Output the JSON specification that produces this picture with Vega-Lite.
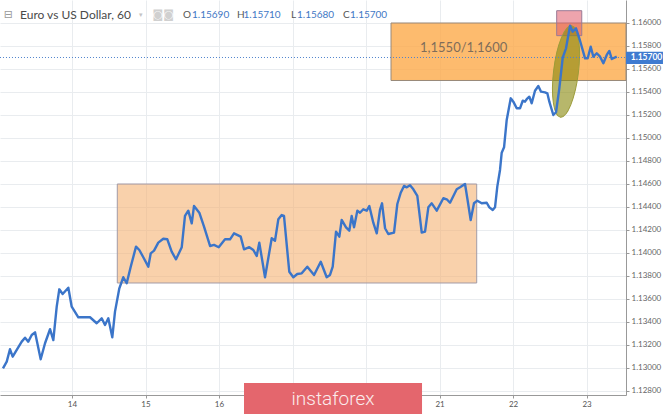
{
  "$schema": "https://vega.github.io/schema/vega-lite/v6.json",
  "width": 626,
  "height": 395,
  "autosize": "none",
  "padding": {"left": 0, "top": 0, "right": 39, "bottom": 19},
  "background": "white",
  "config": {
    "view": {"stroke": null},
    "axis": {"gridColor": "#e9ecef", "gridWidth": 1, "domainColor": "#999999", "tickColor": "#999999", "tickSize": 3, "labelFont": "Lato", "labelFontSize": 8, "labelColor": "#555555", "labelPadding": 2, "labelOverlap": false, "labelFlush": false}
  },
  "datasets": {
    "series": [
      {"d": -0.939, "p": 1.12997}, {"d": -0.888, "p": 1.13055}, {"d": -0.844, "p": 1.13163}, {"d": -0.807, "p": 1.13098},
      {"d": -0.752, "p": 1.13157}, {"d": -0.684, "p": 1.13229}, {"d": -0.639, "p": 1.13263}, {"d": -0.595, "p": 1.13229},
      {"d": -0.548, "p": 1.13287}, {"d": -0.503, "p": 1.1331}, {"d": -0.426, "p": 1.13076}, {"d": -0.367, "p": 1.13215},
      {"d": -0.299, "p": 1.13337}, {"d": -0.254, "p": 1.13243}, {"d": -0.208, "p": 1.13533}, {"d": -0.173, "p": 1.13684},
      {"d": -0.127, "p": 1.13643}, {"d": -0.05, "p": 1.13698}, {"d": -0.004, "p": 1.13533}, {"d": 0.086, "p": 1.13441},
      {"d": 0.245, "p": 1.13441}, {"d": 0.336, "p": 1.13389}, {"d": 0.404, "p": 1.13432}, {"d": 0.449, "p": 1.13374},
      {"d": 0.494, "p": 1.13432}, {"d": 0.548, "p": 1.13267}, {"d": 0.585, "p": 1.1349}, {"d": 0.644, "p": 1.13693},
      {"d": 0.698, "p": 1.13789}, {"d": 0.744, "p": 1.13737}, {"d": 0.799, "p": 1.13881}, {"d": 0.871, "p": 1.14055},
      {"d": 0.916, "p": 1.14026}, {"d": 0.97, "p": 1.13963}, {"d": 1.038, "p": 1.13881}, {"d": 1.071, "p": 1.13997},
      {"d": 1.116, "p": 1.1402}, {"d": 1.174, "p": 1.1409}, {"d": 1.242, "p": 1.14124}, {"d": 1.297, "p": 1.14119},
      {"d": 1.356, "p": 1.14011}, {"d": 1.415, "p": 1.13945}, {"d": 1.493, "p": 1.1405}, {"d": 1.537, "p": 1.14322},
      {"d": 1.582, "p": 1.14368}, {"d": 1.629, "p": 1.14258}, {"d": 1.66, "p": 1.14409}, {"d": 1.732, "p": 1.1435},
      {"d": 1.796, "p": 1.14229}, {"d": 1.878, "p": 1.14061}, {"d": 1.932, "p": 1.1407}, {"d": 1.996, "p": 1.1405},
      {"d": 2.082, "p": 1.14119}, {"d": 2.15, "p": 1.14119}, {"d": 2.204, "p": 1.14171}, {"d": 2.295, "p": 1.14142},
      {"d": 2.34, "p": 1.14032}, {"d": 2.412, "p": 1.1405}, {"d": 2.467, "p": 1.14026}, {"d": 2.513, "p": 1.13974},
      {"d": 2.548, "p": 1.1409}, {"d": 2.626, "p": 1.13789}, {"d": 2.717, "p": 1.14128}, {"d": 2.762, "p": 1.14107},
      {"d": 2.807, "p": 1.14293}, {"d": 2.853, "p": 1.1433}, {"d": 2.884, "p": 1.14322}, {"d": 2.956, "p": 1.13837},
      {"d": 3.011, "p": 1.13789}, {"d": 3.065, "p": 1.13817}, {"d": 3.125, "p": 1.13823}, {"d": 3.201, "p": 1.13881},
      {"d": 3.293, "p": 1.13809}, {"d": 3.384, "p": 1.13924}, {"d": 3.465, "p": 1.13789}, {"d": 3.51, "p": 1.13809},
      {"d": 3.547, "p": 1.13881}, {"d": 3.592, "p": 1.14185}, {"d": 3.637, "p": 1.14142}, {"d": 3.669, "p": 1.14287},
      {"d": 3.728, "p": 1.14223}, {"d": 3.773, "p": 1.14194}, {"d": 3.805, "p": 1.14322}, {"d": 3.837, "p": 1.14223},
      {"d": 3.882, "p": 1.14368}, {"d": 3.918, "p": 1.1435}, {"d": 3.963, "p": 1.1438}, {"d": 4.01, "p": 1.14368},
      {"d": 4.045, "p": 1.14409}, {"d": 4.099, "p": 1.14263}, {"d": 4.146, "p": 1.14171}, {"d": 4.19, "p": 1.14374},
      {"d": 4.218, "p": 1.14432}, {"d": 4.259, "p": 1.14215}, {"d": 4.303, "p": 1.14165}, {"d": 4.381, "p": 1.14177},
      {"d": 4.426, "p": 1.14426}, {"d": 4.472, "p": 1.14524}, {"d": 4.517, "p": 1.14583}, {"d": 4.554, "p": 1.14571},
      {"d": 4.599, "p": 1.14589}, {"d": 4.644, "p": 1.14554}, {"d": 4.698, "p": 1.14496}, {"d": 4.758, "p": 1.14177},
      {"d": 4.803, "p": 1.14185}, {"d": 4.848, "p": 1.14397}, {"d": 4.894, "p": 1.14432}, {"d": 4.962, "p": 1.14368},
      {"d": 5.052, "p": 1.14476}, {"d": 5.098, "p": 1.14467}, {"d": 5.143, "p": 1.14437}, {"d": 5.234, "p": 1.14554},
      {"d": 5.279, "p": 1.14571}, {"d": 5.347, "p": 1.146}, {"d": 5.378, "p": 1.14476}, {"d": 5.424, "p": 1.14287},
      {"d": 5.469, "p": 1.14432}, {"d": 5.514, "p": 1.14455}, {"d": 5.574, "p": 1.14432}, {"d": 5.642, "p": 1.14437},
      {"d": 5.678, "p": 1.14397}, {"d": 5.724, "p": 1.14374}, {"d": 5.755, "p": 1.14397}, {"d": 5.786, "p": 1.14577},
      {"d": 5.823, "p": 1.14722}, {"d": 5.846, "p": 1.14872}, {"d": 5.878, "p": 1.14919}, {"d": 5.914, "p": 1.15157},
      {"d": 5.969, "p": 1.15345}, {"d": 6.004, "p": 1.15316}, {"d": 6.05, "p": 1.15258}, {"d": 6.095, "p": 1.15258},
      {"d": 6.132, "p": 1.15324}, {"d": 6.163, "p": 1.15316}, {"d": 6.186, "p": 1.15337}, {"d": 6.222, "p": 1.15359},
      {"d": 6.254, "p": 1.15302}, {"d": 6.299, "p": 1.15411}, {"d": 6.344, "p": 1.15452}, {"d": 6.381, "p": 1.15403},
      {"d": 6.435, "p": 1.15397}, {"d": 6.467, "p": 1.15389}, {"d": 6.494, "p": 1.15316}, {"d": 6.548, "p": 1.152},
      {"d": 6.585, "p": 1.15224}, {"d": 6.63, "p": 1.15432}, {"d": 6.676, "p": 1.15698}, {"d": 6.721, "p": 1.1578},
      {"d": 6.776, "p": 1.15977}, {"d": 6.812, "p": 1.15924}, {"d": 6.857, "p": 1.15954}, {"d": 6.902, "p": 1.15867},
      {"d": 6.98, "p": 1.15693}, {"d": 7.016, "p": 1.15693}, {"d": 7.057, "p": 1.15794}, {"d": 7.093, "p": 1.15707},
      {"d": 7.139, "p": 1.15737}, {"d": 7.184, "p": 1.15707}, {"d": 7.229, "p": 1.1565}, {"d": 7.275, "p": 1.15722},
      {"d": 7.31, "p": 1.15757}, {"d": 7.343, "p": 1.15687}, {"d": 7.411, "p": 1.15707}
    ],
    "range": [{"d": 0.616, "d2": 5.506, "p": 1.13739, "p2": 1.146}],
    "zone": [{"d": 4.34, "d2": 7.537, "p": 1.155, "p2": 1.16, "label": "1,1550/1,1600"}],
    "peak": [{"d": 6.594, "d2": 6.935, "p": 1.1589, "p2": 1.16107}],
    "spike": [{"d": 6.721, "p": 1.15578}],
    "last": [{"d": -0.98, "d2": 7.537, "d3": 8.04, "p": 1.157, "plo": 1.15643, "phi": 1.1575, "c": "1.15700"}],
    "quote": [{"name": "Euro vs US Dollar, 60", "o": "1.15690", "h": "1.15710", "l": "1.15680", "c": "1.15700"}],
    "brand": [{"d": 2.34, "d2": 4.762, "p": 1.1287, "p2": 1.126, "name": "instaforex"}]
  },
  "layer": [
    {
      "data": {"name": "range"},
      "mark": {"type": "rect", "fill": "#f5b273", "fillOpacity": 0.6, "stroke": "#a39ba6", "strokeWidth": 1},
      "encoding": {
        "x": {"field": "d", "type": "quantitative", "scale": {"domain": [-0.9796, 7.537], "nice": false, "zero": false}, "axis": {"orient": "bottom", "values": [0, 1, 2, 3, 4, 5, 6, 7], "labelExpr": "['14','15','16','','','21','22','23'][datum.value]", "grid": true, "title": null}},
        "x2": {"field": "d2"},
        "y": {"field": "p", "type": "quantitative", "scale": {"domain": [1.12765, 1.162], "nice": false, "zero": false}, "axis": {"orient": "right", "values": [1.128, 1.13, 1.132, 1.134, 1.136, 1.138, 1.14, 1.142, 1.144, 1.146, 1.148, 1.15, 1.152, 1.154, 1.156, 1.158, 1.16], "format": ".5f", "grid": true, "labelColor": "#666666", "title": null}},
        "y2": {"field": "p2"}
      }
    },
    {
      "data": {"name": "zone"},
      "mark": {"type": "rect", "fill": "#fcaa4a", "fillOpacity": 0.8, "stroke": "#98897a", "strokeWidth": 1},
      "encoding": {
        "x": {"field": "d", "type": "quantitative", "scale": {"domain": [-0.9796, 7.537], "nice": false, "zero": false}, "axis": {"orient": "bottom", "values": [0, 1, 2, 3, 4, 5, 6, 7], "labelExpr": "['14','15','16','','','21','22','23'][datum.value]", "grid": true, "title": null}},
        "x2": {"field": "d2"},
        "y": {"field": "p", "type": "quantitative", "scale": {"domain": [1.12765, 1.162], "nice": false, "zero": false}, "axis": {"orient": "right", "values": [1.128, 1.13, 1.132, 1.134, 1.136, 1.138, 1.14, 1.142, 1.144, 1.146, 1.148, 1.15, 1.152, 1.154, 1.156, 1.158, 1.16], "format": ".5f", "grid": true, "labelColor": "#666666", "title": null}},
        "y2": {"field": "p2"}
      }
    },
    {
      "data": {"name": "zone"},
      "mark": {"type": "text", "align": "left", "baseline": "middle", "font": "Lato", "fontSize": 13, "color": "#7f6d5a"},
      "encoding": {
        "x": {"datum": 4.735, "type": "quantitative", "scale": {"domain": [-0.9796, 7.537], "nice": false, "zero": false}, "axis": {"orient": "bottom", "values": [0, 1, 2, 3, 4, 5, 6, 7], "labelExpr": "['14','15','16','','','21','22','23'][datum.value]", "grid": true, "title": null}},
        "y": {"datum": 1.15783, "type": "quantitative", "scale": {"domain": [1.12765, 1.162], "nice": false, "zero": false}, "axis": {"orient": "right", "values": [1.128, 1.13, 1.132, 1.134, 1.136, 1.138, 1.14, 1.142, 1.144, 1.146, 1.148, 1.15, 1.152, 1.154, 1.156, 1.158, 1.16], "format": ".5f", "grid": true, "labelColor": "#666666", "title": null}},
        "text": {"field": "label"}
      }
    },
    {
      "data": {"name": "peak"},
      "mark": {"type": "rect", "fill": "#e05a6a", "fillOpacity": 0.55, "stroke": "#9a7a95", "strokeWidth": 1},
      "encoding": {
        "x": {"field": "d", "type": "quantitative", "scale": {"domain": [-0.9796, 7.537], "nice": false, "zero": false}, "axis": {"orient": "bottom", "values": [0, 1, 2, 3, 4, 5, 6, 7], "labelExpr": "['14','15','16','','','21','22','23'][datum.value]", "grid": true, "title": null}},
        "x2": {"field": "d2"},
        "y": {"field": "p", "type": "quantitative", "scale": {"domain": [1.12765, 1.162], "nice": false, "zero": false}, "axis": {"orient": "right", "values": [1.128, 1.13, 1.132, 1.134, 1.136, 1.138, 1.14, 1.142, 1.144, 1.146, 1.148, 1.15, 1.152, 1.154, 1.156, 1.158, 1.16], "format": ".5f", "grid": true, "labelColor": "#666666", "title": null}},
        "y2": {"field": "p2"}
      }
    },
    {
      "data": {"name": "spike"},
      "mark": {"type": "point", "shape": "M0,-1 A0.27,1 0 1 1 0,1 A0.27,1 0 1 1 0,-1 Z", "size": 8464, "angle": 7, "filled": true, "fill": "#8a8a10", "fillOpacity": 0.62, "stroke": "#9c9c3a", "strokeWidth": 1, "opacity": 1},
      "encoding": {
        "x": {"field": "d", "type": "quantitative", "scale": {"domain": [-0.9796, 7.537], "nice": false, "zero": false}, "axis": {"orient": "bottom", "values": [0, 1, 2, 3, 4, 5, 6, 7], "labelExpr": "['14','15','16','','','21','22','23'][datum.value]", "grid": true, "title": null}},
        "y": {"field": "p", "type": "quantitative", "scale": {"domain": [1.12765, 1.162], "nice": false, "zero": false}, "axis": {"orient": "right", "values": [1.128, 1.13, 1.132, 1.134, 1.136, 1.138, 1.14, 1.142, 1.144, 1.146, 1.148, 1.15, 1.152, 1.154, 1.156, 1.158, 1.16], "format": ".5f", "grid": true, "labelColor": "#666666", "title": null}}
      }
    },
    {
      "data": {"name": "last"},
      "mark": {"type": "rule", "stroke": "#4f82cc", "strokeWidth": 1, "strokeDash": [1, 2]},
      "encoding": {
        "x": {"field": "d", "type": "quantitative", "scale": {"domain": [-0.9796, 7.537], "nice": false, "zero": false}, "axis": {"orient": "bottom", "values": [0, 1, 2, 3, 4, 5, 6, 7], "labelExpr": "['14','15','16','','','21','22','23'][datum.value]", "grid": true, "title": null}},
        "x2": {"field": "d2"},
        "y": {"field": "p", "type": "quantitative", "scale": {"domain": [1.12765, 1.162], "nice": false, "zero": false}, "axis": {"orient": "right", "values": [1.128, 1.13, 1.132, 1.134, 1.136, 1.138, 1.14, 1.142, 1.144, 1.146, 1.148, 1.15, 1.152, 1.154, 1.156, 1.158, 1.16], "format": ".5f", "grid": true, "labelColor": "#666666", "title": null}}
      }
    },
    {
      "data": {"name": "series"},
      "mark": {"type": "line", "stroke": "#3b75c9", "strokeWidth": 2.4, "strokeJoin": "round"},
      "encoding": {
        "x": {"field": "d", "type": "quantitative", "scale": {"domain": [-0.9796, 7.537], "nice": false, "zero": false}, "axis": {"orient": "bottom", "values": [0, 1, 2, 3, 4, 5, 6, 7], "labelExpr": "['14','15','16','','','21','22','23'][datum.value]", "grid": true, "title": null}},
        "y": {"field": "p", "type": "quantitative", "scale": {"domain": [1.12765, 1.162], "nice": false, "zero": false}, "axis": {"orient": "right", "values": [1.128, 1.13, 1.132, 1.134, 1.136, 1.138, 1.14, 1.142, 1.144, 1.146, 1.148, 1.15, 1.152, 1.154, 1.156, 1.158, 1.16], "format": ".5f", "grid": true, "labelColor": "#666666", "title": null}}
      }
    },
    {
      "data": {"name": "last"},
      "mark": {"type": "rect", "fill": "#3f7bd0"},
      "encoding": {
        "x": {"field": "d2", "type": "quantitative", "scale": {"domain": [-0.9796, 7.537], "nice": false, "zero": false}, "axis": {"orient": "bottom", "values": [0, 1, 2, 3, 4, 5, 6, 7], "labelExpr": "['14','15','16','','','21','22','23'][datum.value]", "grid": true, "title": null}},
        "x2": {"field": "d3"},
        "y": {"field": "plo", "type": "quantitative", "scale": {"domain": [1.12765, 1.162], "nice": false, "zero": false}, "axis": {"orient": "right", "values": [1.128, 1.13, 1.132, 1.134, 1.136, 1.138, 1.14, 1.142, 1.144, 1.146, 1.148, 1.15, 1.152, 1.154, 1.156, 1.158, 1.16], "format": ".5f", "grid": true, "labelColor": "#666666", "title": null}},
        "y2": {"field": "phi"}
      }
    },
    {
      "data": {"name": "last"},
      "mark": {"type": "text", "align": "left", "baseline": "middle", "font": "Lato", "fontSize": 8.5, "fontWeight": "bold", "color": "white"},
      "encoding": {
        "x": {"datum": 7.601, "type": "quantitative", "scale": {"domain": [-0.9796, 7.537], "nice": false, "zero": false}, "axis": {"orient": "bottom", "values": [0, 1, 2, 3, 4, 5, 6, 7], "labelExpr": "['14','15','16','','','21','22','23'][datum.value]", "grid": true, "title": null}},
        "y": {"field": "p", "type": "quantitative", "scale": {"domain": [1.12765, 1.162], "nice": false, "zero": false}, "axis": {"orient": "right", "values": [1.128, 1.13, 1.132, 1.134, 1.136, 1.138, 1.14, 1.142, 1.144, 1.146, 1.148, 1.15, 1.152, 1.154, 1.156, 1.158, 1.16], "format": ".5f", "grid": true, "labelColor": "#666666", "title": null}},
        "text": {"field": "c"}
      }
    },
    {
      "data": {"name": "quote"},
      "mark": {"type": "text", "align": "left", "baseline": "middle", "font": "DejaVu Sans", "fontSize": 11, "color": "#9a9a9a", "text": "⊟"},
      "encoding": {
        "x": {"datum": -0.93, "type": "quantitative", "scale": {"domain": [-0.9796, 7.537], "nice": false, "zero": false}, "axis": {"orient": "bottom", "values": [0, 1, 2, 3, 4, 5, 6, 7], "labelExpr": "['14','15','16','','','21','22','23'][datum.value]", "grid": true, "title": null}},
        "y": {"datum": 1.1607, "type": "quantitative", "scale": {"domain": [1.12765, 1.162], "nice": false, "zero": false}, "axis": {"orient": "right", "values": [1.128, 1.13, 1.132, 1.134, 1.136, 1.138, 1.14, 1.142, 1.144, 1.146, 1.148, 1.15, 1.152, 1.154, 1.156, 1.158, 1.16], "format": ".5f", "grid": true, "labelColor": "#666666", "title": null}}
      }
    },
    {
      "data": {"name": "quote"},
      "mark": {"type": "text", "align": "left", "baseline": "middle", "font": "Lato", "fontSize": 12, "color": "#4a4a4a"},
      "encoding": {
        "x": {"datum": -0.707, "type": "quantitative", "scale": {"domain": [-0.9796, 7.537], "nice": false, "zero": false}, "axis": {"orient": "bottom", "values": [0, 1, 2, 3, 4, 5, 6, 7], "labelExpr": "['14','15','16','','','21','22','23'][datum.value]", "grid": true, "title": null}},
        "y": {"datum": 1.1607, "type": "quantitative", "scale": {"domain": [1.12765, 1.162], "nice": false, "zero": false}, "axis": {"orient": "right", "values": [1.128, 1.13, 1.132, 1.134, 1.136, 1.138, 1.14, 1.142, 1.144, 1.146, 1.148, 1.15, 1.152, 1.154, 1.156, 1.158, 1.16], "format": ".5f", "grid": true, "labelColor": "#666666", "title": null}},
        "text": {"field": "name"}
      }
    },
    {
      "data": {"name": "quote"},
      "mark": {"type": "text", "align": "left", "baseline": "middle", "font": "DejaVu Sans", "fontSize": 7, "color": "#c4c4c4", "text": "▾"},
      "encoding": {
        "x": {"datum": 0.912, "type": "quantitative", "scale": {"domain": [-0.9796, 7.537], "nice": false, "zero": false}, "axis": {"orient": "bottom", "values": [0, 1, 2, 3, 4, 5, 6, 7], "labelExpr": "['14','15','16','','','21','22','23'][datum.value]", "grid": true, "title": null}},
        "y": {"datum": 1.1607, "type": "quantitative", "scale": {"domain": [1.12765, 1.162], "nice": false, "zero": false}, "axis": {"orient": "right", "values": [1.128, 1.13, 1.132, 1.134, 1.136, 1.138, 1.14, 1.142, 1.144, 1.146, 1.148, 1.15, 1.152, 1.154, 1.156, 1.158, 1.16], "format": ".5f", "grid": true, "labelColor": "#666666", "title": null}}
      }
    },
    {
      "data": {"name": "quote"},
      "mark": {"type": "text", "align": "left", "baseline": "middle", "font": "DejaVu Sans", "fontSize": 11, "color": "#d0d0d0", "text": "◙◙"},
      "encoding": {
        "x": {"datum": 1.095, "type": "quantitative", "scale": {"domain": [-0.9796, 7.537], "nice": false, "zero": false}, "axis": {"orient": "bottom", "values": [0, 1, 2, 3, 4, 5, 6, 7], "labelExpr": "['14','15','16','','','21','22','23'][datum.value]", "grid": true, "title": null}},
        "y": {"datum": 1.1607, "type": "quantitative", "scale": {"domain": [1.12765, 1.162], "nice": false, "zero": false}, "axis": {"orient": "right", "values": [1.128, 1.13, 1.132, 1.134, 1.136, 1.138, 1.14, 1.142, 1.144, 1.146, 1.148, 1.15, 1.152, 1.154, 1.156, 1.158, 1.16], "format": ".5f", "grid": true, "labelColor": "#666666", "title": null}}
      }
    },
    {
      "data": {"name": "quote"},
      "mark": {"type": "text", "align": "left", "baseline": "middle", "font": "Lato", "fontSize": 10, "color": "#555555", "text": "O"},
      "encoding": {
        "x": {"datum": 1.51, "type": "quantitative", "scale": {"domain": [-0.9796, 7.537], "nice": false, "zero": false}, "axis": {"orient": "bottom", "values": [0, 1, 2, 3, 4, 5, 6, 7], "labelExpr": "['14','15','16','','','21','22','23'][datum.value]", "grid": true, "title": null}},
        "y": {"datum": 1.1607, "type": "quantitative", "scale": {"domain": [1.12765, 1.162], "nice": false, "zero": false}, "axis": {"orient": "right", "values": [1.128, 1.13, 1.132, 1.134, 1.136, 1.138, 1.14, 1.142, 1.144, 1.146, 1.148, 1.15, 1.152, 1.154, 1.156, 1.158, 1.16], "format": ".5f", "grid": true, "labelColor": "#666666", "title": null}}
      }
    },
    {
      "data": {"name": "quote"},
      "mark": {"type": "text", "align": "left", "baseline": "middle", "font": "Lato", "fontSize": 10, "color": "#3f78c5"},
      "encoding": {
        "x": {"datum": 1.633, "type": "quantitative", "scale": {"domain": [-0.9796, 7.537], "nice": false, "zero": false}, "axis": {"orient": "bottom", "values": [0, 1, 2, 3, 4, 5, 6, 7], "labelExpr": "['14','15','16','','','21','22','23'][datum.value]", "grid": true, "title": null}},
        "y": {"datum": 1.1607, "type": "quantitative", "scale": {"domain": [1.12765, 1.162], "nice": false, "zero": false}, "axis": {"orient": "right", "values": [1.128, 1.13, 1.132, 1.134, 1.136, 1.138, 1.14, 1.142, 1.144, 1.146, 1.148, 1.15, 1.152, 1.154, 1.156, 1.158, 1.16], "format": ".5f", "grid": true, "labelColor": "#666666", "title": null}},
        "text": {"field": "o"}
      }
    },
    {
      "data": {"name": "quote"},
      "mark": {"type": "text", "align": "left", "baseline": "middle", "font": "Lato", "fontSize": 10, "color": "#555555", "text": "H"},
      "encoding": {
        "x": {"datum": 2.245, "type": "quantitative", "scale": {"domain": [-0.9796, 7.537], "nice": false, "zero": false}, "axis": {"orient": "bottom", "values": [0, 1, 2, 3, 4, 5, 6, 7], "labelExpr": "['14','15','16','','','21','22','23'][datum.value]", "grid": true, "title": null}},
        "y": {"datum": 1.1607, "type": "quantitative", "scale": {"domain": [1.12765, 1.162], "nice": false, "zero": false}, "axis": {"orient": "right", "values": [1.128, 1.13, 1.132, 1.134, 1.136, 1.138, 1.14, 1.142, 1.144, 1.146, 1.148, 1.15, 1.152, 1.154, 1.156, 1.158, 1.16], "format": ".5f", "grid": true, "labelColor": "#666666", "title": null}}
      }
    },
    {
      "data": {"name": "quote"},
      "mark": {"type": "text", "align": "left", "baseline": "middle", "font": "Lato", "fontSize": 10, "color": "#3f78c5"},
      "encoding": {
        "x": {"datum": 2.333, "type": "quantitative", "scale": {"domain": [-0.9796, 7.537], "nice": false, "zero": false}, "axis": {"orient": "bottom", "values": [0, 1, 2, 3, 4, 5, 6, 7], "labelExpr": "['14','15','16','','','21','22','23'][datum.value]", "grid": true, "title": null}},
        "y": {"datum": 1.1607, "type": "quantitative", "scale": {"domain": [1.12765, 1.162], "nice": false, "zero": false}, "axis": {"orient": "right", "values": [1.128, 1.13, 1.132, 1.134, 1.136, 1.138, 1.14, 1.142, 1.144, 1.146, 1.148, 1.15, 1.152, 1.154, 1.156, 1.158, 1.16], "format": ".5f", "grid": true, "labelColor": "#666666", "title": null}},
        "text": {"field": "h"}
      }
    },
    {
      "data": {"name": "quote"},
      "mark": {"type": "text", "align": "left", "baseline": "middle", "font": "Lato", "fontSize": 10, "color": "#555555", "text": "L"},
      "encoding": {
        "x": {"datum": 2.98, "type": "quantitative", "scale": {"domain": [-0.9796, 7.537], "nice": false, "zero": false}, "axis": {"orient": "bottom", "values": [0, 1, 2, 3, 4, 5, 6, 7], "labelExpr": "['14','15','16','','','21','22','23'][datum.value]", "grid": true, "title": null}},
        "y": {"datum": 1.1607, "type": "quantitative", "scale": {"domain": [1.12765, 1.162], "nice": false, "zero": false}, "axis": {"orient": "right", "values": [1.128, 1.13, 1.132, 1.134, 1.136, 1.138, 1.14, 1.142, 1.144, 1.146, 1.148, 1.15, 1.152, 1.154, 1.156, 1.158, 1.16], "format": ".5f", "grid": true, "labelColor": "#666666", "title": null}}
      }
    },
    {
      "data": {"name": "quote"},
      "mark": {"type": "text", "align": "left", "baseline": "middle", "font": "Lato", "fontSize": 10, "color": "#3f78c5"},
      "encoding": {
        "x": {"datum": 3.061, "type": "quantitative", "scale": {"domain": [-0.9796, 7.537], "nice": false, "zero": false}, "axis": {"orient": "bottom", "values": [0, 1, 2, 3, 4, 5, 6, 7], "labelExpr": "['14','15','16','','','21','22','23'][datum.value]", "grid": true, "title": null}},
        "y": {"datum": 1.1607, "type": "quantitative", "scale": {"domain": [1.12765, 1.162], "nice": false, "zero": false}, "axis": {"orient": "right", "values": [1.128, 1.13, 1.132, 1.134, 1.136, 1.138, 1.14, 1.142, 1.144, 1.146, 1.148, 1.15, 1.152, 1.154, 1.156, 1.158, 1.16], "format": ".5f", "grid": true, "labelColor": "#666666", "title": null}},
        "text": {"field": "l"}
      }
    },
    {
      "data": {"name": "quote"},
      "mark": {"type": "text", "align": "left", "baseline": "middle", "font": "Lato", "fontSize": 10, "color": "#555555", "text": "C"},
      "encoding": {
        "x": {"datum": 3.687, "type": "quantitative", "scale": {"domain": [-0.9796, 7.537], "nice": false, "zero": false}, "axis": {"orient": "bottom", "values": [0, 1, 2, 3, 4, 5, 6, 7], "labelExpr": "['14','15','16','','','21','22','23'][datum.value]", "grid": true, "title": null}},
        "y": {"datum": 1.1607, "type": "quantitative", "scale": {"domain": [1.12765, 1.162], "nice": false, "zero": false}, "axis": {"orient": "right", "values": [1.128, 1.13, 1.132, 1.134, 1.136, 1.138, 1.14, 1.142, 1.144, 1.146, 1.148, 1.15, 1.152, 1.154, 1.156, 1.158, 1.16], "format": ".5f", "grid": true, "labelColor": "#666666", "title": null}}
      }
    },
    {
      "data": {"name": "quote"},
      "mark": {"type": "text", "align": "left", "baseline": "middle", "font": "Lato", "fontSize": 10, "color": "#3f78c5"},
      "encoding": {
        "x": {"datum": 3.782, "type": "quantitative", "scale": {"domain": [-0.9796, 7.537], "nice": false, "zero": false}, "axis": {"orient": "bottom", "values": [0, 1, 2, 3, 4, 5, 6, 7], "labelExpr": "['14','15','16','','','21','22','23'][datum.value]", "grid": true, "title": null}},
        "y": {"datum": 1.1607, "type": "quantitative", "scale": {"domain": [1.12765, 1.162], "nice": false, "zero": false}, "axis": {"orient": "right", "values": [1.128, 1.13, 1.132, 1.134, 1.136, 1.138, 1.14, 1.142, 1.144, 1.146, 1.148, 1.15, 1.152, 1.154, 1.156, 1.158, 1.16], "format": ".5f", "grid": true, "labelColor": "#666666", "title": null}},
        "text": {"field": "c"}
      }
    },
    {
      "data": {"name": "brand"},
      "mark": {"type": "rect", "fill": "#e4666d"},
      "encoding": {
        "x": {"field": "d", "type": "quantitative", "scale": {"domain": [-0.9796, 7.537], "nice": false, "zero": false}, "axis": {"orient": "bottom", "values": [0, 1, 2, 3, 4, 5, 6, 7], "labelExpr": "['14','15','16','','','21','22','23'][datum.value]", "grid": true, "title": null}},
        "x2": {"field": "d2"},
        "y": {"field": "p", "type": "quantitative", "scale": {"domain": [1.12765, 1.162], "nice": false, "zero": false}, "axis": {"orient": "right", "values": [1.128, 1.13, 1.132, 1.134, 1.136, 1.138, 1.14, 1.142, 1.144, 1.146, 1.148, 1.15, 1.152, 1.154, 1.156, 1.158, 1.16], "format": ".5f", "grid": true, "labelColor": "#666666", "title": null}},
        "y2": {"field": "p2"}
      }
    },
    {
      "data": {"name": "brand"},
      "mark": {"type": "text", "align": "center", "baseline": "alphabetic", "font": "Roboto", "fontWeight": 300, "fontSize": 19, "color": "#fbecec"},
      "encoding": {
        "x": {"datum": 3.551, "type": "quantitative", "scale": {"domain": [-0.9796, 7.537], "nice": false, "zero": false}, "axis": {"orient": "bottom", "values": [0, 1, 2, 3, 4, 5, 6, 7], "labelExpr": "['14','15','16','','','21','22','23'][datum.value]", "grid": true, "title": null}},
        "y": {"datum": 1.12678, "type": "quantitative", "scale": {"domain": [1.12765, 1.162], "nice": false, "zero": false}, "axis": {"orient": "right", "values": [1.128, 1.13, 1.132, 1.134, 1.136, 1.138, 1.14, 1.142, 1.144, 1.146, 1.148, 1.15, 1.152, 1.154, 1.156, 1.158, 1.16], "format": ".5f", "grid": true, "labelColor": "#666666", "title": null}},
        "text": {"field": "name"}
      }
    }
  ]
}
